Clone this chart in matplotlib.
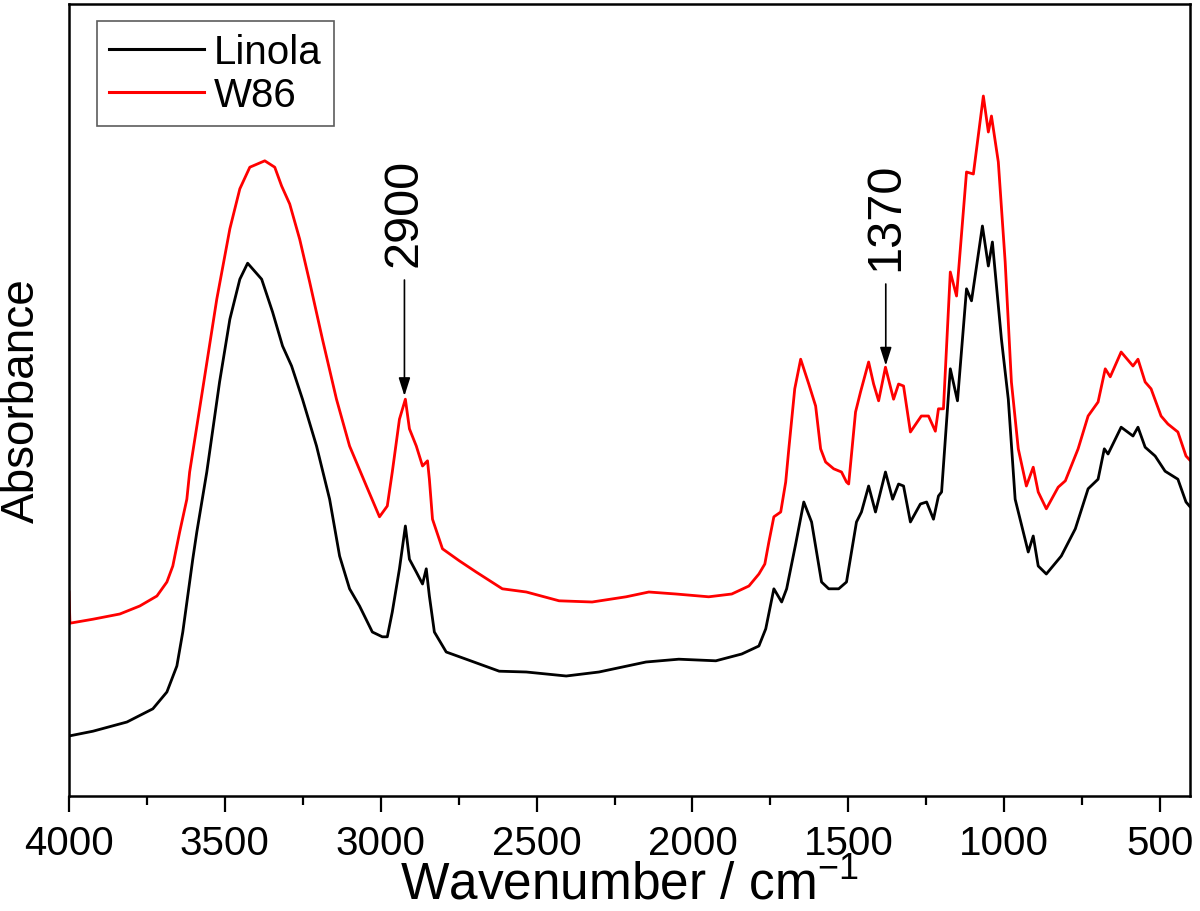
import numpy as np
import matplotlib
matplotlib.use('Agg')
import matplotlib.pyplot as plt
from matplotlib.ticker import MultipleLocator

plt.rcParams['font.family'] = ['Liberation Sans', 'DejaVu Sans']
plt.rcParams['mathtext.fontset'] = 'custom'
plt.rcParams['mathtext.rm'] = 'Liberation Sans'
plt.rcParams['mathtext.it'] = 'Liberation Sans:italic'

# FTIR spectra (wavenumber in cm-1, absorbance in arb. units)
wn_w86 = [4000, 3997, 3923, 3837, 3773, 3718, 3686, 3667, 3645, 3622, 3613, 3571, 3526,
          3484, 3452, 3420, 3372, 3340, 3318, 3292, 3260, 3228, 3187, 3142, 3100, 3046,
          3004, 2979, 2963, 2940, 2921, 2908, 2886, 2866, 2850, 2844, 2834, 2802, 2748,
          2694, 2610, 2533, 2428, 2322, 2213, 2140, 2053, 1948, 1874, 1819, 1787, 1768,
          1755, 1739, 1717, 1701, 1691, 1672, 1653, 1627, 1605, 1589, 1573, 1547, 1522,
          1506, 1499, 1477, 1461, 1435, 1419, 1403, 1381, 1355, 1339, 1323, 1301, 1266,
          1243, 1221, 1211, 1195, 1173, 1153, 1121, 1099, 1067, 1051, 1041, 1019, 997,
          977, 955, 929, 907, 891, 865, 827, 804, 763, 731, 699, 676, 660, 625, 587, 571,
          548, 529, 497, 475, 443, 417, 405]
abs_w86 = [0.255, 0.216, 0.221, 0.2275, 0.2375, 0.25, 0.2675, 0.2875, 0.33, 0.371, 0.405,
           0.509, 0.621, 0.709, 0.759, 0.786, 0.794, 0.786, 0.7625, 0.74, 0.696, 0.6425,
           0.571, 0.496, 0.4375, 0.3875, 0.349, 0.3625, 0.405, 0.471, 0.496, 0.459, 0.4375,
           0.4125, 0.419, 0.396, 0.346, 0.309, 0.294, 0.28, 0.259, 0.255, 0.244, 0.2425,
           0.249, 0.255, 0.2525, 0.249, 0.2525, 0.2625, 0.2775, 0.29, 0.3175, 0.349, 0.355,
           0.3925, 0.434, 0.509, 0.546, 0.515, 0.4875, 0.434, 0.4175, 0.409, 0.405, 0.3925,
           0.39, 0.48, 0.505, 0.5425, 0.515, 0.494, 0.536, 0.496, 0.515, 0.5125, 0.455,
           0.475, 0.475, 0.456, 0.484, 0.484, 0.655, 0.625, 0.78, 0.7775, 0.875, 0.83, 0.85,
           0.7925, 0.6675, 0.5175, 0.434, 0.3875, 0.411, 0.38, 0.359, 0.386, 0.394, 0.434,
           0.475, 0.4925, 0.534, 0.524, 0.555, 0.5375, 0.546, 0.5175, 0.509, 0.475, 0.465,
           0.455, 0.425, 0.42]

wn_linola = [4000, 3923, 3814, 3731, 3686, 3654, 3635, 3613, 3603, 3590, 3558, 3517, 3484,
             3452, 3427, 3382, 3347, 3315, 3286, 3251, 3206, 3164, 3132, 3100, 3068, 3027,
             2995, 2979, 2963, 2940, 2921, 2908, 2886, 2866, 2854, 2844, 2828, 2790, 2726,
             2620, 2533, 2405, 2300, 2149, 2044, 1925, 1842, 1787, 1765, 1739, 1714, 1698,
             1669, 1643, 1618, 1586, 1563, 1531, 1506, 1474, 1458, 1435, 1413, 1381, 1358,
             1339, 1323, 1301, 1269, 1249, 1227, 1211, 1201, 1173, 1150, 1121, 1105, 1070,
             1051, 1038, 1009, 987, 965, 923, 907, 891, 865, 817, 772, 731, 699, 679, 667,
             625, 587, 571, 548, 516, 484, 443, 417, 405]
abs_linola = [0.075, 0.081, 0.0925, 0.109, 0.13, 0.1625, 0.205, 0.2675, 0.296, 0.33, 0.405,
              0.5175, 0.596, 0.646, 0.666, 0.646, 0.605, 0.5625, 0.5375, 0.496, 0.4375,
              0.371, 0.30, 0.259, 0.2375, 0.205, 0.199, 0.199, 0.23, 0.284, 0.3375, 0.296,
              0.28, 0.265, 0.284, 0.25, 0.205, 0.18, 0.171, 0.156, 0.155, 0.15, 0.155,
              0.1675, 0.171, 0.169, 0.1775, 0.1875, 0.209, 0.259, 0.2425, 0.259, 0.315,
              0.3675, 0.3425, 0.2675, 0.259, 0.259, 0.2675, 0.3425, 0.355, 0.3875, 0.355,
              0.405, 0.371, 0.39, 0.3875, 0.3425, 0.365, 0.3675, 0.346, 0.375, 0.38, 0.534,
              0.494, 0.634, 0.619, 0.7125, 0.6625, 0.6925, 0.571, 0.496, 0.371, 0.305, 0.325,
              0.2875, 0.2775, 0.30, 0.334, 0.384, 0.396, 0.434, 0.4275, 0.461, 0.45, 0.461,
              0.436, 0.425, 0.406, 0.396, 0.3675, 0.362]

# marked bands: (label, wavenumber, arrow tip, arrow tail)
bands = [('2900', 2924, 0.50, 0.645),
         ('1370', 1380, 0.538, 0.64)]

fig = plt.figure(figsize=(12, 9.12), dpi=100)
ax = fig.add_axes([0.0575, 0.1261, 0.9342, 0.8684])

ax.plot(wn_linola, abs_linola, color='black', lw=2.0, label='Linola')
ax.plot(wn_w86, abs_w86, color='#ff0000', lw=2.0, label='W86')

for lab, w, tip, tail in bands:
    ax.annotate('', xy=(w, tip), xytext=(w, tail),
                arrowprops=dict(arrowstyle='-|>,head_length=1.1,head_width=0.35',
                                color='black', lw=1.2, shrinkA=0, shrinkB=0))
    ax.text(w, tail + 0.018, lab, rotation=90, ha='center', va='bottom', fontsize=35)

ax.set_xlim(4000, 404)
ax.set_ylim(0, 0.99)
ax.xaxis.set_major_locator(MultipleLocator(500))
ax.xaxis.set_minor_locator(MultipleLocator(250))
ax.tick_params(axis='x', which='major', direction='out', length=11.5, width=1.6,
               labelsize=29, pad=9)
ax.tick_params(axis='x', which='minor', direction='out', length=6.5, width=1.6)
ax.tick_params(axis='y', which='both', left=False, labelleft=False)
for sp in ax.spines.values():
    sp.set_linewidth(1.8)

ax.set_xlabel('Wavenumber / cm$^{-1}$', fontsize=37, labelpad=-2)
ax.set_ylabel('Absorbance', fontsize=33, labelpad=18)

leg = ax.legend(loc='upper left', bbox_to_anchor=(0.025, 0.9785), borderaxespad=0,
                fontsize=29, frameon=True, fancybox=False, handlelength=2.35,
                handletextpad=0.25, labelspacing=0.12, borderpad=0.3)
leg.get_frame().set_edgecolor('#333333')
leg.get_frame().set_linewidth(1.2)
for h in leg.get_lines():
    h.set_linewidth(2.2)

fig.savefig('out.png', dpi=100)
